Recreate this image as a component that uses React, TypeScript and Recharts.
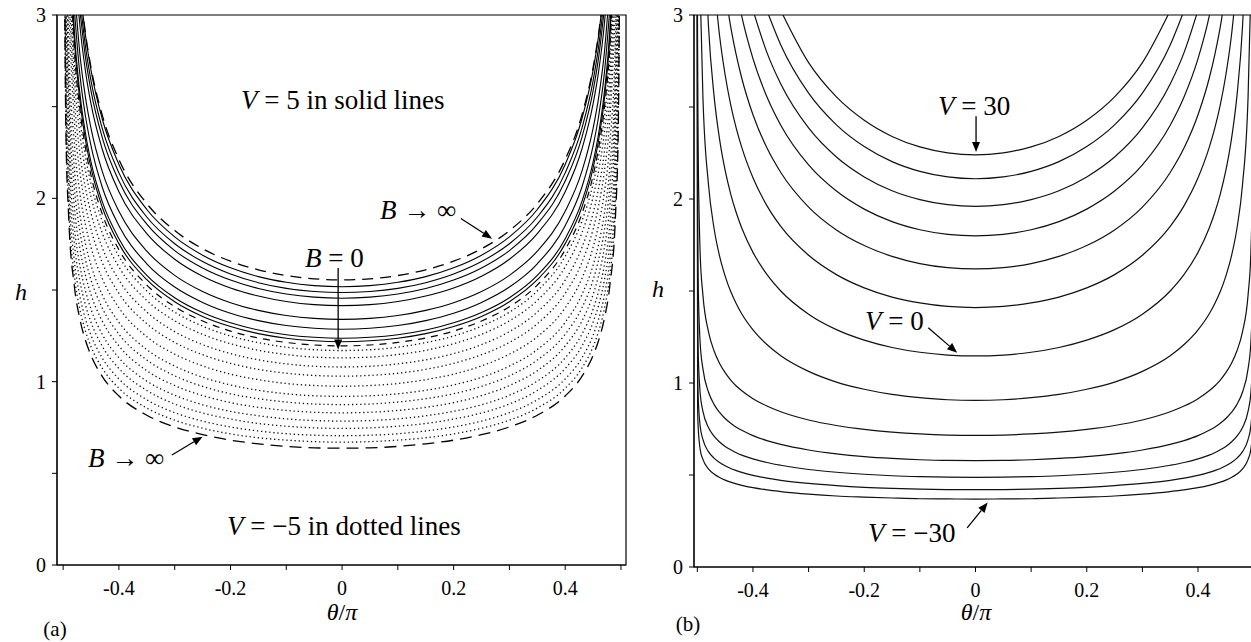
import React from "react"
import { LineChart, Line, XAxis, YAxis, ReferenceLine, ReferenceArea } from "recharts"

const FONT = "'Liberation Serif', 'DejaVu Serif', serif"

// theta/pi sample positions for the left half of each curve (curves are symmetric in theta)
const thetaA = [0, 0.05, 0.1, 0.15, 0.2, 0.25, 0.3, 0.35, 0.4, 0.43, 0.45, 0.46, 0.47, 0.48, 0.49, 0.495, 0.499]
const thetaB = [0, 0.05, 0.1, 0.15, 0.2, 0.25, 0.3, 0.35, 0.375, 0.4, 0.42, 0.43, 0.44, 0.45, 0.46, 0.47, 0.48, 0.49, 0.495, 0.499, 0.4995, 0.5]

// panel (a): V = 5, B -> infinity (dashed, upper bound)
const upperDashA = [1.555, 1.561, 1.579, 1.61, 1.657, 1.725, 1.824, 1.971, 2.212, 2.455, 2.713, 2.9, 3.16]

// panel (a): V = 5, solid lines for finite B
const solidA = [
  [1.518, 1.524, 1.542, 1.573, 1.621, 1.69, 1.79, 1.939, 2.185, 2.434, 2.698, 2.89, 3.159],
  [1.486, 1.492, 1.509, 1.54, 1.587, 1.655, 1.752, 1.898, 2.139, 2.383, 2.641, 2.829, 3.092],
  [1.455, 1.461, 1.478, 1.508, 1.554, 1.62, 1.715, 1.859, 2.094, 2.333, 2.586, 2.77, 3.028],
  [1.415, 1.42, 1.437, 1.467, 1.511, 1.575, 1.668, 1.808, 2.036, 2.269, 2.515, 2.694, 2.944, 3.337],
  [1.34, 1.345, 1.361, 1.389, 1.431, 1.492, 1.58, 1.712, 1.929, 2.148, 2.382, 2.551, 2.788, 3.16],
  [1.286, 1.291, 1.306, 1.333, 1.373, 1.432, 1.516, 1.643, 1.851, 2.062, 2.286, 2.449, 2.676, 3.033],
  [1.237, 1.242, 1.256, 1.282, 1.321, 1.377, 1.458, 1.58, 1.78, 1.983, 2.198, 2.355, 2.574, 2.917, 3.617],
  [1.218, 1.223, 1.237, 1.262, 1.301, 1.356, 1.436, 1.556, 1.753, 1.953, 2.165, 2.319, 2.534, 2.873, 3.561],
]

// panel (a): B = 0 (dashed)
const zeroDashA = [1.195, 1.2, 1.214, 1.238, 1.276, 1.331, 1.409, 1.527, 1.72, 1.916, 2.124, 2.275, 2.487, 2.818, 3.494]

// panel (a): V = -5, dotted lines for finite B
const dottedA = [
  [1.17, 1.174, 1.188, 1.213, 1.249, 1.303, 1.379, 1.495, 1.684, 1.876, 2.079, 2.228, 2.435, 2.759, 3.421],
  [1.13, 1.134, 1.148, 1.171, 1.207, 1.258, 1.332, 1.443, 1.626, 1.812, 2.008, 2.152, 2.351, 2.665, 3.304],
  [1.08, 1.084, 1.097, 1.119, 1.153, 1.202, 1.273, 1.38, 1.554, 1.732, 1.919, 2.056, 2.247, 2.547, 3.158],
  [1.03, 1.034, 1.046, 1.067, 1.1, 1.147, 1.214, 1.316, 1.482, 1.651, 1.831, 1.961, 2.143, 2.429, 3.011],
  [0.975, 0.979, 0.99, 1.011, 1.041, 1.086, 1.15, 1.245, 1.403, 1.563, 1.733, 1.856, 2.029, 2.3, 2.851, 3.534],
  [0.92, 0.923, 0.934, 0.953, 0.982, 1.024, 1.085, 1.175, 1.324, 1.475, 1.635, 1.752, 1.914, 2.17, 2.69, 3.335],
  [0.875, 0.878, 0.889, 0.907, 0.934, 0.974, 1.032, 1.118, 1.259, 1.403, 1.555, 1.666, 1.821, 2.064, 2.558, 3.172],
  [0.83, 0.833, 0.843, 0.86, 0.886, 0.924, 0.979, 1.06, 1.195, 1.331, 1.475, 1.58, 1.727, 1.958, 2.427, 3.008],
  [0.785, 0.788, 0.797, 0.814, 0.838, 0.874, 0.926, 1.003, 1.13, 1.259, 1.395, 1.495, 1.633, 1.851, 2.295, 2.845, 4.685],
  [0.745, 0.748, 0.757, 0.772, 0.796, 0.829, 0.878, 0.952, 1.072, 1.194, 1.324, 1.418, 1.55, 1.757, 2.178, 2.7, 4.446],
  [0.705, 0.708, 0.716, 0.731, 0.753, 0.785, 0.831, 0.901, 1.015, 1.13, 1.253, 1.342, 1.467, 1.663, 2.061, 2.555, 4.207],
  [0.67, 0.673, 0.681, 0.694, 0.715, 0.746, 0.79, 0.856, 0.964, 1.074, 1.191, 1.276, 1.394, 1.58, 1.959, 2.428, 3.999],
]

// panel (a): V = -5, B -> infinity (dashed, lower bound)
const lowerDashA = [0.637, 0.639, 0.647, 0.661, 0.681, 0.711, 0.753, 0.817, 0.922, 1.029, 1.143, 1.226, 1.341, 1.523, 1.895, 2.357, 3.913]

// panel (b): one curve per V
const voltagesB = [30, 25, 20, 15, 10, 5, 0, -5, -10, -15, -20, -25, -30]
const curvesB = [
  [2.24, 2.251, 2.283, 2.34, 2.428, 2.555, 2.741, 3.024],
  [2.11, 2.12, 2.15, 2.203, 2.285, 2.403, 2.575, 2.837, 3.025],
  [1.96, 1.969, 1.997, 2.045, 2.12, 2.228, 2.386, 2.625, 2.797, 3.027],
  [1.8, 1.808, 1.833, 1.877, 1.945, 2.043, 2.185, 2.401, 2.556, 2.763, 2.991, 3.138],
  [1.62, 1.627, 1.649, 1.688, 1.747, 1.832, 1.956, 2.144, 2.278, 2.458, 2.655, 2.782, 2.935, 3.13],
  [1.41, 1.416, 1.435, 1.467, 1.517, 1.589, 1.694, 1.851, 1.964, 2.115, 2.279, 2.384, 2.512, 2.674, 2.887, 3.187],
  [1.147, 1.152, 1.167, 1.193, 1.233, 1.29, 1.374, 1.5, 1.59, 1.71, 1.841, 1.925, 2.027, 2.155, 2.324, 2.562, 2.94, 3.721],
  [0.906, 0.909, 0.92, 0.938, 0.966, 1.005, 1.063, 1.148, 1.209, 1.289, 1.375, 1.431, 1.497, 1.581, 1.689, 1.841, 2.079, 2.559, 3.15],
  [0.715, 0.717, 0.723, 0.733, 0.748, 0.769, 0.799, 0.844, 0.875, 0.915, 0.958, 0.984, 1.016, 1.056, 1.106, 1.175, 1.279, 1.479, 1.711, 2.398, 2.774, 3.2],
  [0.578, 0.579, 0.583, 0.59, 0.6, 0.615, 0.636, 0.666, 0.687, 0.714, 0.743, 0.76, 0.781, 0.807, 0.84, 0.884, 0.951, 1.078, 1.221, 1.631, 1.847, 3.2],
  [0.487, 0.488, 0.491, 0.496, 0.504, 0.515, 0.53, 0.553, 0.568, 0.588, 0.608, 0.621, 0.637, 0.655, 0.679, 0.711, 0.758, 0.847, 0.947, 1.225, 1.368, 3.2],
  [0.42, 0.421, 0.423, 0.427, 0.433, 0.442, 0.454, 0.471, 0.483, 0.498, 0.514, 0.524, 0.535, 0.55, 0.568, 0.592, 0.627, 0.694, 0.767, 0.969, 1.071, 3.2],
  [0.369, 0.37, 0.371, 0.375, 0.38, 0.386, 0.396, 0.41, 0.419, 0.431, 0.444, 0.452, 0.461, 0.472, 0.486, 0.505, 0.533, 0.585, 0.641, 0.794, 0.871, 3.2],
]

// annotation arrows, in data coordinates [theta/pi, h]
const arrowsA = [
  [[-0.007, 1.62], [-0.007, 1.175]],
  [[0.213, 1.89], [0.269, 1.78]],
  [[-0.305, 0.6], [-0.25, 0.7]],
]
const arrowsB = [
  [[0.001, 2.45], [0.001, 2.255]],
  [[-0.085, 1.3], [-0.033, 1.165]],
  [[-0.015, 0.213], [0.022, 0.35]],
]

const xTicks = [-0.5, -0.4, -0.3, -0.2, -0.1, 0, 0.1, 0.2, 0.3, 0.4, 0.5]
const xLabelled = [-0.4, -0.2, 0, 0.2, 0.4]
const yTicks = [0, 0.5, 1, 1.5, 2, 2.5, 3]
const yLabelled = [0, 1, 2, 3]

// build a full symmetric curve from its left-half samples
function mirror(grid: number[], hs: number[]) {
  const left = hs.map((h, i) => ({ t: -grid[i], h })).reverse()
  const right = hs.slice(1).map((h, i) => ({ t: grid[i + 1], h }))
  return [...left, ...right]
}

function Arrow(p: any) {
  const { x1, y1, x2, y2 } = p
  const a = Math.atan2(y2 - y1, x2 - x1)
  const len = 10
  const w = 4
  const bx = x2 - len * Math.cos(a)
  const by = y2 - len * Math.sin(a)
  const pts = `${x2},${y2} ${bx - w * Math.sin(a)},${by + w * Math.cos(a)} ${bx + w * Math.sin(a)},${by - w * Math.cos(a)}`
  return (
    <g>
      <line x1={x1} y1={y1} x2={bx} y2={by} stroke="#000" strokeWidth={1.3} />
      <polygon points={pts} fill="#000" />
    </g>
  )
}

const tickStyle = { fill: "#000", fontSize: 20, fontFamily: FONT }

function axes(domain: [number, number]) {
  return [
    <XAxis
      key="x"
      type="number"
      dataKey="t"
      domain={domain}
      allowDataOverflow
      ticks={xTicks}
      interval={0}
      tickSize={5}
      tickMargin={11}
      height={40}
      stroke="#000"
      tick={tickStyle}
      tickFormatter={(v: number) => (xLabelled.includes(v) ? String(v) : "")}
    />,
    <YAxis
      key="y"
      type="number"
      domain={[0, 3]}
      allowDataOverflow
      ticks={yTicks}
      interval={0}
      tickSize={5}
      tickMargin={6}
      width={30}
      stroke="#000"
      tick={tickStyle}
      tickFormatter={(v: number) => (yLabelled.includes(v) ? String(v) : "")}
    />,
  ]
}

function arrowLines(list: number[][][], prefix: string) {
  return list.map((a, i) => (
    <ReferenceLine
      key={`${prefix}-${i}`}
      segment={[{ x: a[0][0], y: a[0][1] }, { x: a[1][0], y: a[1][1] }]}
      shape={Arrow}
      ifOverflow="visible"
    />
  ))
}

export default function App() {
  const domA: [number, number] = [-0.511, 0.509]
  const domB: [number, number] = [-0.506, 0.506]

  return (
    <div style={{ position: "fixed", left: 0, top: 0, width: 1251, height: 642, overflow: "hidden", background: "#fff" }}>
      <div style={{ position: "absolute", left: 0, top: 0 }}>
        <LineChart width={640} height={642} margin={{ top: 15, right: 14, bottom: 37, left: 27 }}>
          {axes(domA)}
          {dottedA.map((hs, i) => (
            <Line key={`d${i}`} data={mirror(thetaA, hs)} dataKey="h" type="monotone" stroke="#111"
              strokeWidth={1.3} strokeDasharray="1.3 2.8" dot={false} activeDot={false} isAnimationActive={false} />
          ))}
          <Line data={mirror(thetaA, lowerDashA)} dataKey="h" type="monotone" stroke="#000" strokeWidth={1.3}
            strokeDasharray="12 7" dot={false} activeDot={false} isAnimationActive={false} />
          <Line data={mirror(thetaA, zeroDashA)} dataKey="h" type="monotone" stroke="#000" strokeWidth={1.2}
            strokeDasharray="7 6" dot={false} activeDot={false} isAnimationActive={false} />
          {solidA.map((hs, i) => (
            <Line key={`s${i}`} data={mirror(thetaA, hs)} dataKey="h" type="monotone" stroke="#000"
              strokeWidth={1.1} dot={false} activeDot={false} isAnimationActive={false} />
          ))}
          <Line data={mirror(thetaA, upperDashA)} dataKey="h" type="monotone" stroke="#000" strokeWidth={1.3}
            strokeDasharray="11 7" dot={false} activeDot={false} isAnimationActive={false} />
          <ReferenceArea x1={domA[0]} x2={domA[1]} y1={0} y2={3} fill="none" stroke="#000" strokeWidth={1.2} ifOverflow="visible" />
          {arrowLines(arrowsA, "a")}
        </LineChart>
      </div>

      <div style={{ position: "absolute", left: 640, top: 0 }}>
        <LineChart width={640} height={642} margin={{ top: 15, right: 23, bottom: 35, left: 24 }}>
          {axes(domB)}
          {curvesB.map((hs, i) => (
            <Line key={`V${voltagesB[i]}`} name={`V = ${voltagesB[i]}`} data={mirror(thetaB, hs)} dataKey="h"
              type="monotone" stroke="#111" strokeWidth={1.2} dot={false} activeDot={false} isAnimationActive={false} />
          ))}
          <ReferenceArea x1={domB[0]} x2={domB[1]} y1={0} y2={3} fill="none" stroke="#000" strokeWidth={1.2} ifOverflow="visible" />
          {arrowLines(arrowsB, "b")}
        </LineChart>
      </div>

      <svg width={1251} height={642} style={{ position: "absolute", left: 0, top: 0, pointerEvents: "none" }}
        fontFamily={FONT} fill="#000">
        <text x={241} y={109} fontSize={27}><tspan fontStyle="italic">V</tspan> = 5 in solid lines</text>
        <text x={227} y={535} fontSize={27}><tspan fontStyle="italic">V</tspan> = {"\u2212"}5 in dotted lines</text>
        <text x={305} y={267} fontSize={27}><tspan fontStyle="italic">B</tspan> = 0</text>
        <text x={380} y={219} fontSize={27}><tspan fontStyle="italic">B</tspan> {"\u2192"} {"\u221e"}</text>
        <text x={88} y={467} fontSize={27}><tspan fontStyle="italic">B</tspan> {"\u2192"} {"\u221e"}</text>
        <text x={938} y={115} fontSize={27}><tspan fontStyle="italic">V</tspan> = 30</text>
        <text x={865} y={330} fontSize={27}><tspan fontStyle="italic">V</tspan> = 0</text>
        <text x={868} y={542} fontSize={27}><tspan fontStyle="italic">V</tspan> = {"\u2212"}30</text>

        <text x={21} y={300} fontSize={24} fontStyle="italic" textAnchor="middle">h</text>
        <text x={658} y={297} fontSize={24} fontStyle="italic" textAnchor="middle">h</text>
        <text x={342} y={620} fontSize={24} textAnchor="middle"><tspan fontStyle="italic">{"\u03b8"}</tspan>/<tspan fontStyle="italic">{"\u03c0"}</tspan></text>
        <text x={976} y={620} fontSize={24} textAnchor="middle"><tspan fontStyle="italic">{"\u03b8"}</tspan>/<tspan fontStyle="italic">{"\u03c0"}</tspan></text>
        <text x={55} y={636} fontSize={21} textAnchor="middle">(a)</text>
        <text x={688} y={631} fontSize={21} textAnchor="middle">(b)</text>
      </svg>
    </div>
  )
}
